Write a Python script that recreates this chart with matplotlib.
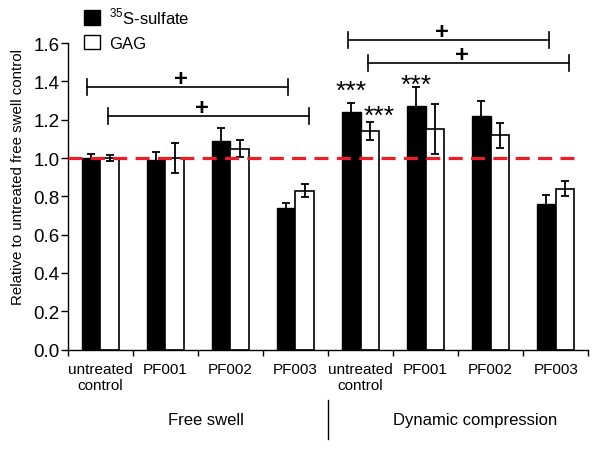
import matplotlib
matplotlib.use('Agg')
import matplotlib.pyplot as plt
import matplotlib.transforms as mtransforms
from matplotlib.patches import Patch
import numpy as np

plt.rcParams['font.family'] = ['Liberation Sans', 'DejaVu Sans']
plt.rcParams['mathtext.fontset'] = 'custom'
plt.rcParams['mathtext.rm'] = 'Liberation Sans'

# data
groups = ['untreated\ncontrol', 'PF001', 'PF002', 'PF003',
          'untreated\ncontrol', 'PF001', 'PF002', 'PF003']
sulfate = [1.00, 0.99, 1.09, 0.74, 1.24, 1.27, 1.22, 0.76]
sulfate_err = [0.02, 0.04, 0.066, 0.026, 0.047, 0.10, 0.076, 0.047]
gag = [1.00, 1.00, 1.05, 0.83, 1.14, 1.15, 1.12, 0.84]
gag_err = [0.015, 0.08, 0.042, 0.035, 0.047, 0.13, 0.065, 0.04]
conditions = ['Free swell', 'Dynamic compression']

# significance brackets: left group, right group, series (0 sulfate, 1 GAG), height
br_left = [0, 0, 4, 4]
br_right = [3, 3, 7, 7]
br_series = [0, 1, 0, 1]
br_y = [1.372, 1.218, 1.615, 1.497]

# *** markers: group, series
star_group = [4, 4, 5]
star_series = [0, 1, 0]

x = np.arange(len(groups))
w = 0.286

fig = plt.figure(figsize=(6, 4.52), dpi=100)
ax = fig.add_axes([0.1128, 0.2245, 0.8677, 0.6777])

ax.bar(x - w / 2, sulfate, w, color='black', edgecolor='black', linewidth=1.0, zorder=2)
ax.bar(x + w / 2, gag, w, color='white', edgecolor='black', linewidth=1.2, zorder=2)
ax.errorbar(x - w / 2, sulfate, yerr=sulfate_err, fmt='none', ecolor='black',
            elinewidth=1.3, capsize=3, capthick=1.3, zorder=3)
ax.errorbar(x + w / 2, gag, yerr=gag_err, fmt='none', ecolor='black',
            elinewidth=1.3, capsize=3, capthick=1.3, zorder=3)

ax.hlines(1.0, -0.5, 7.41, colors='#ee1c25', linewidth=2.3,
          linestyles=(0, (4.4, 2.6)), zorder=4)

ax.set_xlim(-0.5, 7.5)
ax.set_ylim(0, 1.6)
ax.set_yticks(np.arange(0, 1.61, 0.2))
ax.set_yticklabels([f'{v:.1f}' for v in np.arange(0, 1.61, 0.2)], fontsize=13.5)
ax.set_xticks(x)
ax.set_xticklabels(groups, fontsize=11, linespacing=1.15)
ax.set_xticks(np.arange(-0.5, 7.6, 1), minor=True)
ax.tick_params(axis='x', which='major', length=0, pad=9)
ax.tick_params(axis='x', which='minor', length=4, width=1, direction='out')
ax.tick_params(axis='y', length=5, width=1, direction='out', pad=1)
ax.spines['top'].set_visible(False)
ax.spines['right'].set_visible(False)
for s in ['left', 'bottom']:
    ax.spines[s].set_linewidth(1.0)
ax.set_ylabel('Relative to untreated free swell control', fontsize=10.8)
ax.yaxis.set_label_coords(-0.082, 0.568)

# brackets
left_off = [-0.2, 0.12]
right_off = [-0.11, 0.21]
tick_h = 0.042
for gl, gr, s, yb in zip(br_left, br_right, br_series, br_y):
    x0 = gl + left_off[s]
    x1 = gr + right_off[s]
    ax.plot([x0, x1], [yb, yb], color='black', lw=1.2, clip_on=False)
    ax.plot([x0, x0], [yb - tick_h, yb + tick_h], color='black', lw=1.2, clip_on=False)
    ax.plot([x1, x1], [yb - tick_h, yb + tick_h], color='black', lw=1.2, clip_on=False)
    ax.text((x0 + x1) / 2 - 0.1, yb + 0.045, '+', fontsize=17, fontweight='bold',
            ha='center', va='center', clip_on=False)

# stars, placed above the error bar tops (offsets in points)
star_offset = [4, -0.5, -3]
for g, s, off in zip(star_group, star_series, star_offset):
    if s == 0:
        xs = g - w / 2
        top = sulfate[g] + sulfate_err[g]
    else:
        xs = g + w / 2 + 0.15
        top = gag[g] + gag_err[g]
    ax.annotate('***', (xs, top), xytext=(0, off), textcoords='offset points',
                fontsize=19, ha='center', va='baseline')

# condition labels below axis
trans = mtransforms.blended_transform_factory(ax.transData, ax.transAxes)
ax.plot([3.5, 3.5], [-0.165, -0.292], color='black', lw=1.0, transform=trans, clip_on=False)
ax.text(1.62, -0.227, conditions[0], fontsize=12, ha='center', va='center', transform=trans)
ax.text(5.76, -0.227, conditions[1], fontsize=12, ha='center', va='center', transform=trans)

handles = [Patch(facecolor='black', edgecolor='black'),
           Patch(facecolor='white', edgecolor='black', linewidth=1.0)]
fig.legend(handles, [r'$^{35}$S-sulfate', 'GAG'], loc='upper left',
           bbox_to_anchor=(0.14, 0.985), frameon=False, fontsize=12,
           handlelength=0.95, handleheight=0.95, handletextpad=0.55,
           labelspacing=0.5, borderpad=0, borderaxespad=0)

fig.savefig('out.png', dpi=100)
